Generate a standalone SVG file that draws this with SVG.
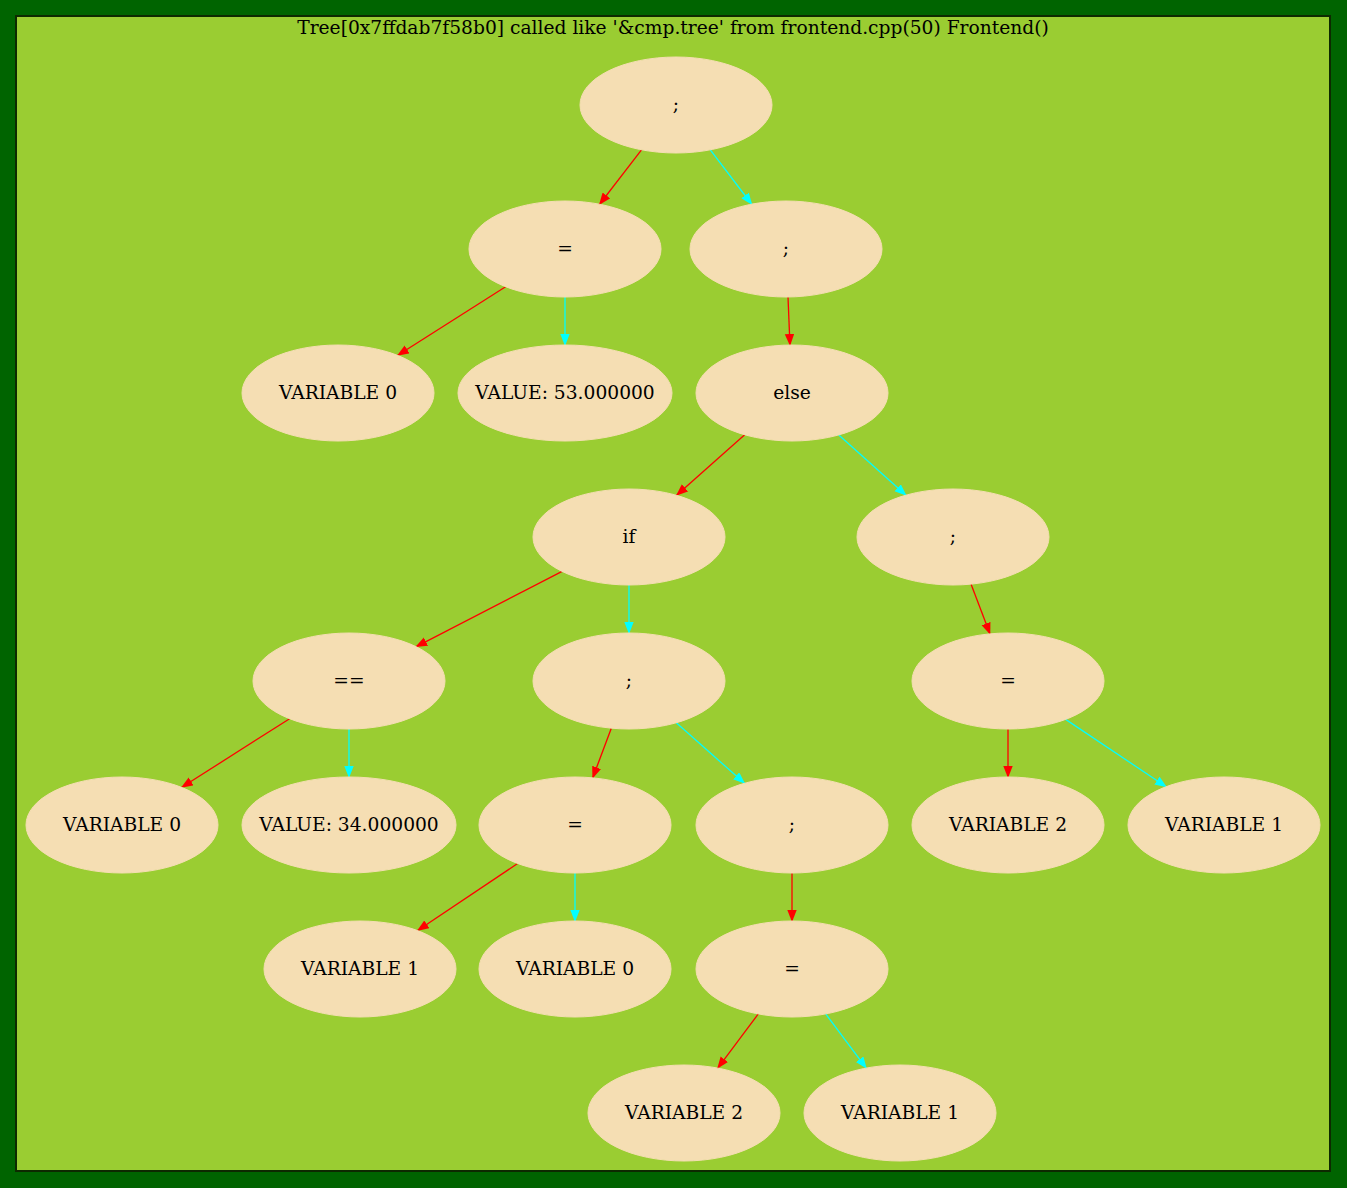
<svg xmlns="http://www.w3.org/2000/svg" width="1347" height="1188" viewBox="0 0 1347 1188">
<style>
  .n ellipse { fill: #F5DEB3; stroke: #F5DEB3; stroke-width: 1; }
  .n text { font-family: "DejaVu Serif", serif; font-size: 18.67px; text-anchor: middle; fill: #000; }
  .title { font-family: "DejaVu Serif", serif; font-size: 18.67px; text-anchor: middle; fill: #000; }
  .r { stroke: #FF0000; stroke-width: 1.3; fill: none; marker-end: url(#ar); }
  .c { stroke: #00FFFF; stroke-width: 1.3; fill: none; marker-end: url(#ac); }
</style>
<defs>
  <marker id="ar" markerUnits="userSpaceOnUse" markerWidth="14" markerHeight="12" refX="12" refY="4.7" orient="auto">
    <path d="M0,0 L12,4.7 L0,9.4 z" fill="#FF0000"/>
  </marker>
  <marker id="ac" markerUnits="userSpaceOnUse" markerWidth="14" markerHeight="12" refX="12" refY="4.7" orient="auto">
    <path d="M0,0 L12,4.7 L0,9.4 z" fill="#00FFFF"/>
  </marker>
</defs>
<rect x="0" y="0" width="1347" height="1188" fill="#006400"/>
<rect x="16" y="16" width="1314" height="1155" fill="#9ACD32" stroke="#0d2a00" stroke-width="2"/>
<text class="title" x="673" y="34">Tree[0x7ffdab7f58b0] called like '&amp;cmp.tree' from frontend.cpp(50) Frontend()</text>

<g id="edges">
  <line class="r" x1="641.5" y1="149.8" x2="599" y2="205"/>
  <line class="c" x1="710.3" y1="149.8" x2="752.3" y2="205"/>
  <line class="r" x1="505.6" y1="286.7" x2="397" y2="355.8"/>
  <line class="c" x1="565" y1="297" x2="565" y2="346"/>
  <line class="r" x1="788" y1="297" x2="790" y2="346"/>
  <line class="r" x1="744.7" y1="434.8" x2="676" y2="495.8"/>
  <line class="c" x1="838.8" y1="434.9" x2="906.6" y2="495.7"/>
  <line class="r" x1="562.1" y1="571.4" x2="415.3" y2="647.1"/>
  <line class="c" x1="629" y1="585" x2="629" y2="634"/>
  <line class="r" x1="971" y1="584.1" x2="990.3" y2="634.8"/>
  <line class="r" x1="289.6" y1="718.7" x2="181" y2="787.8"/>
  <line class="c" x1="349" y1="729" x2="349" y2="778"/>
  <line class="r" x1="611.3" y1="728.2" x2="592.4" y2="778.7"/>
  <line class="c" x1="676.3" y1="722.8" x2="745.1" y2="783.8"/>
  <line class="r" x1="1008" y1="729" x2="1008" y2="778"/>
  <line class="c" x1="1065.6" y1="719.4" x2="1166.9" y2="787.2"/>
  <line class="r" x1="517.6" y1="863.5" x2="416.9" y2="931"/>
  <line class="c" x1="575" y1="873" x2="575" y2="922"/>
  <line class="r" x1="792" y1="873" x2="792" y2="922"/>
  <line class="r" x1="758.3" y1="1013.9" x2="717.2" y2="1068.8"/>
  <line class="c" x1="825.7" y1="1013.9" x2="866.8" y2="1068.8"/>
</g>

<g id="n_root" class="n"><ellipse cx="676" cy="105" rx="96" ry="48"/><text x="676" y="111">;</text></g>
<g id="n_assign1" class="n"><ellipse cx="565" cy="249" rx="96" ry="48"/><text x="565" y="255">=</text></g>
<g id="n_semi1" class="n"><ellipse cx="786" cy="249" rx="96" ry="48"/><text x="786" y="255">;</text></g>
<g id="n_var0a" class="n"><ellipse cx="338" cy="393" rx="96" ry="48"/><text x="338" y="399">VARIABLE 0</text></g>
<g id="n_val53" class="n"><ellipse cx="565" cy="393" rx="107" ry="48"/><text x="565" y="399">VALUE: 53.000000</text></g>
<g id="n_else" class="n"><ellipse cx="792" cy="393" rx="96" ry="48"/><text x="792" y="399">else</text></g>
<g id="n_if" class="n"><ellipse cx="629" cy="537" rx="96" ry="48"/><text x="629" y="543">if</text></g>
<g id="n_semi2" class="n"><ellipse cx="953" cy="537" rx="96" ry="48"/><text x="953" y="543">;</text></g>
<g id="n_eq" class="n"><ellipse cx="349" cy="681" rx="96" ry="48"/><text x="349" y="687">==</text></g>
<g id="n_semi3" class="n"><ellipse cx="629" cy="681" rx="96" ry="48"/><text x="629" y="687">;</text></g>
<g id="n_assign2" class="n"><ellipse cx="1008" cy="681" rx="96" ry="48"/><text x="1008" y="687">=</text></g>
<g id="n_var0b" class="n"><ellipse cx="122" cy="825" rx="96" ry="48"/><text x="122" y="831">VARIABLE 0</text></g>
<g id="n_val34" class="n"><ellipse cx="349" cy="825" rx="107" ry="48"/><text x="349" y="831">VALUE: 34.000000</text></g>
<g id="n_assign3" class="n"><ellipse cx="575" cy="825" rx="96" ry="48"/><text x="575" y="831">=</text></g>
<g id="n_semi4" class="n"><ellipse cx="792" cy="825" rx="96" ry="48"/><text x="792" y="831">;</text></g>
<g id="n_var2a" class="n"><ellipse cx="1008" cy="825" rx="96" ry="48"/><text x="1008" y="831">VARIABLE 2</text></g>
<g id="n_var1a" class="n"><ellipse cx="1224" cy="825" rx="96" ry="48"/><text x="1224" y="831">VARIABLE 1</text></g>
<g id="n_var1b" class="n"><ellipse cx="360" cy="969" rx="96" ry="48"/><text x="360" y="975">VARIABLE 1</text></g>
<g id="n_var0c" class="n"><ellipse cx="575" cy="969" rx="96" ry="48"/><text x="575" y="975">VARIABLE 0</text></g>
<g id="n_assign4" class="n"><ellipse cx="792" cy="969" rx="96" ry="48"/><text x="792" y="975">=</text></g>
<g id="n_var2b" class="n"><ellipse cx="684" cy="1113" rx="96" ry="48"/><text x="684" y="1119">VARIABLE 2</text></g>
<g id="n_var1c" class="n"><ellipse cx="900" cy="1113" rx="96" ry="48"/><text x="900" y="1119">VARIABLE 1</text></g>
</svg>
